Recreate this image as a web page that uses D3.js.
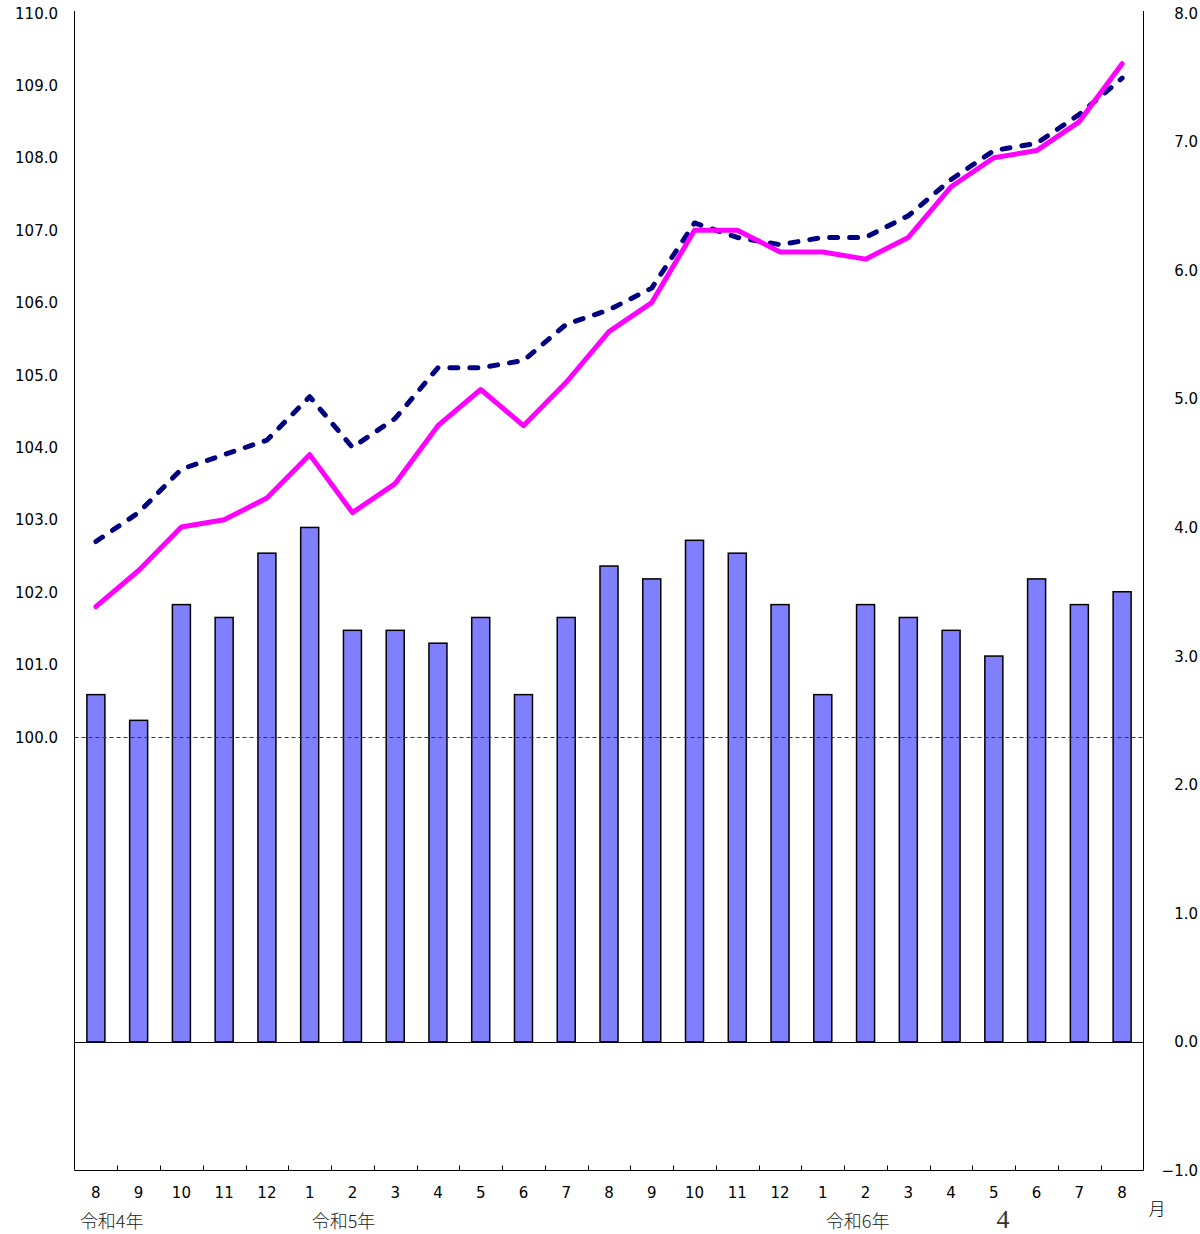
<!DOCTYPE html>
<html>
<head>
<meta charset="utf-8">
<script src="https://cdn.jsdelivr.net/npm/d3@7"></script>
<style>
  body { margin: 0; background: #fff; }
  svg text { font-family: "DejaVu Sans", Verdana, sans-serif; }
</style>
</head>
<body>
<div id="chart"></div>
<script>
// months shown on the x axis (R4.8 .. R6.8)
var months = ["8","9","10","11","12","1","2","3","4","5","6","7","8","9","10","11","12","1","2","3","4","5","6","7","8"];
// bar series, right axis (%)
var barValues = [2.7,2.5,3.4,3.3,3.8,4.0,3.2,3.2,3.1,3.3,2.7,3.3,3.7,3.6,3.9,3.8,3.4,2.7,3.4,3.3,3.2,3.0,3.6,3.4,3.5];
// solid magenta line, left axis (index)
var solidLine = [101.8,102.3,102.9,103.0,103.3,103.9,103.1,103.5,104.3,104.8,104.3,104.9,105.6,106.0,107.0,107.0,106.7,106.7,106.6,106.9,107.6,108.0,108.1,108.5,109.3];
// dashed navy line, left axis (index)
var dashedLine = [102.7,103.1,103.7,103.9,104.1,104.7,104.0,104.4,105.1,105.1,105.2,105.7,105.9,106.2,107.1,106.9,106.8,106.9,106.9,107.2,107.7,108.1,108.2,108.6,109.1];
var leftTicks = [100,101,102,103,104,105,106,107,108,109,110];
var rightTicks = [-1,0,1,2,3,4,5,6,7,8];
var eraLabels = ["令和4年", "令和5年", "令和6年"];
var eraIndex = [0, 5, 17];

(function() {
  var width = 1200, height = 1234;
  var mLeft = 74.5, mRight = 1143.5, mTop = 13, mBottom = 1170.5;

  var svg = d3.select("#chart").append("svg")
    .attr("width", width)
    .attr("height", height);

  var x = d3.scaleBand()
    .domain(d3.range(months.length))
    .range([mLeft, mRight]);
  var cx = function(i) { return x(i) + x.bandwidth() / 2; };

  var yL = d3.scaleLinear().domain([100, 110]).range([737, mTop]);
  var yR = d3.scaleLinear().domain([-1, 8]).range([mBottom, mTop]);

  // bars
  svg.append("g").selectAll("rect")
    .data(barValues)
    .enter().append("rect")
    .attr("x", function(d, i) { return cx(i) - 9; })
    .attr("width", 18)
    .attr("y", function(d) { return yR(d); })
    .attr("height", function(d) { return yR(0) - yR(d); })
    .attr("fill", "#8080ff")
    .attr("stroke", "#000")
    .attr("stroke-width", 1.5);

  // zero line (right axis)
  svg.append("line")
    .attr("x1", mLeft).attr("x2", mRight)
    .attr("y1", Math.round(yR(0)) + 0.5).attr("y2", Math.round(yR(0)) + 0.5)
    .attr("stroke", "#000").attr("stroke-width", 1);

  // 100 reference line (left axis)
  svg.append("line")
    .attr("x1", mLeft).attr("x2", mRight)
    .attr("y1", Math.round(yL(100)) + 0.5).attr("y2", Math.round(yL(100)) + 0.5)
    .attr("stroke", "#333").attr("stroke-width", 1)
    .attr("stroke-dasharray", "4,3");

  var line = d3.line()
    .x(function(d, i) { return cx(i); })
    .y(function(d) { return yL(d); });

  svg.append("path")
    .datum(dashedLine)
    .attr("d", line)
    .attr("fill", "none")
    .attr("stroke", "#000080")
    .attr("stroke-width", 5)
    .attr("stroke-linecap", "round")
    .attr("stroke-linejoin", "round")
    .attr("stroke-dasharray", "8,12");

  svg.append("path")
    .datum(solidLine)
    .attr("d", line)
    .attr("fill", "none")
    .attr("stroke", "#ff00ff")
    .attr("stroke-width", 5)
    .attr("stroke-linejoin", "round")
    .attr("stroke-linecap", "round");

  // axis lines
  svg.append("line").attr("x1", mLeft).attr("x2", mLeft).attr("y1", mTop - 2).attr("y2", mBottom)
    .attr("stroke", "#000");
  svg.append("line").attr("x1", mRight).attr("x2", mRight).attr("y1", mTop - 2).attr("y2", mBottom)
    .attr("stroke", "#000");
  svg.append("line").attr("x1", mLeft).attr("x2", mRight).attr("y1", mBottom).attr("y2", mBottom)
    .attr("stroke", "#000");

  // x ticks between categories
  svg.append("g").selectAll("line")
    .data(d3.range(1, months.length))
    .enter().append("line")
    .attr("x1", function(i) { return Math.round(x(i)) + 0.5; })
    .attr("x2", function(i) { return Math.round(x(i)) + 0.5; })
    .attr("y1", mBottom).attr("y2", mBottom - 5)
    .attr("stroke", "#000");

  // left tick labels
  svg.append("g").selectAll("text")
    .data(leftTicks)
    .enter().append("text")
    .attr("x", 58)
    .attr("y", function(d) { return yL(d) + 5.5; })
    .attr("text-anchor", "end")
    .attr("font-size", 15)
    .text(function(d) { return d.toFixed(1); });

  // right tick labels
  svg.append("g").selectAll("text")
    .data(rightTicks)
    .enter().append("text")
    .attr("x", 1198)
    .attr("y", function(d) { return yR(d) + 5.5; })
    .attr("text-anchor", "end")
    .attr("font-size", 15)
    .text(function(d) { return d < 0 ? "\u22121.0" : d.toFixed(1); });

  // month labels
  svg.append("g").selectAll("text")
    .data(months)
    .enter().append("text")
    .attr("x", function(d, i) { return cx(i); })
    .attr("y", 1198)
    .attr("text-anchor", "middle")
    .attr("font-size", 15)
    .text(function(d) { return d; });

  // era labels
  var eraShift = [-16, 2, 3];
  svg.append("g").selectAll("text")
    .data(eraLabels)
    .enter().append("text")
    .attr("x", function(d, k) { return cx(eraIndex[k]) + eraShift[k]; })
    .attr("y", 1228)
    .style("font-family", "'Noto Sans CJK JP', sans-serif")
    .attr("font-size", 18)
    .attr("font-weight", 300)
    .attr("fill", "#222")
    .text(function(d) { return d; });

  svg.append("text")
    .attr("x", 1157).attr("y", 1215)
    .attr("text-anchor", "middle")
    .style("font-family", "'Noto Sans CJK JP', sans-serif")
    .attr("font-size", 17)
    .attr("font-weight", 300)
    .text("月");

  svg.append("text")
    .attr("x", 1003).attr("y", 1228)
    .attr("text-anchor", "middle")
    .style("font-family", "'Liberation Serif', 'DejaVu Serif', serif")
    .attr("font-size", 26)
    .attr("fill", "#333")
    .text("4");
})();
</script>
</body>
</html>
